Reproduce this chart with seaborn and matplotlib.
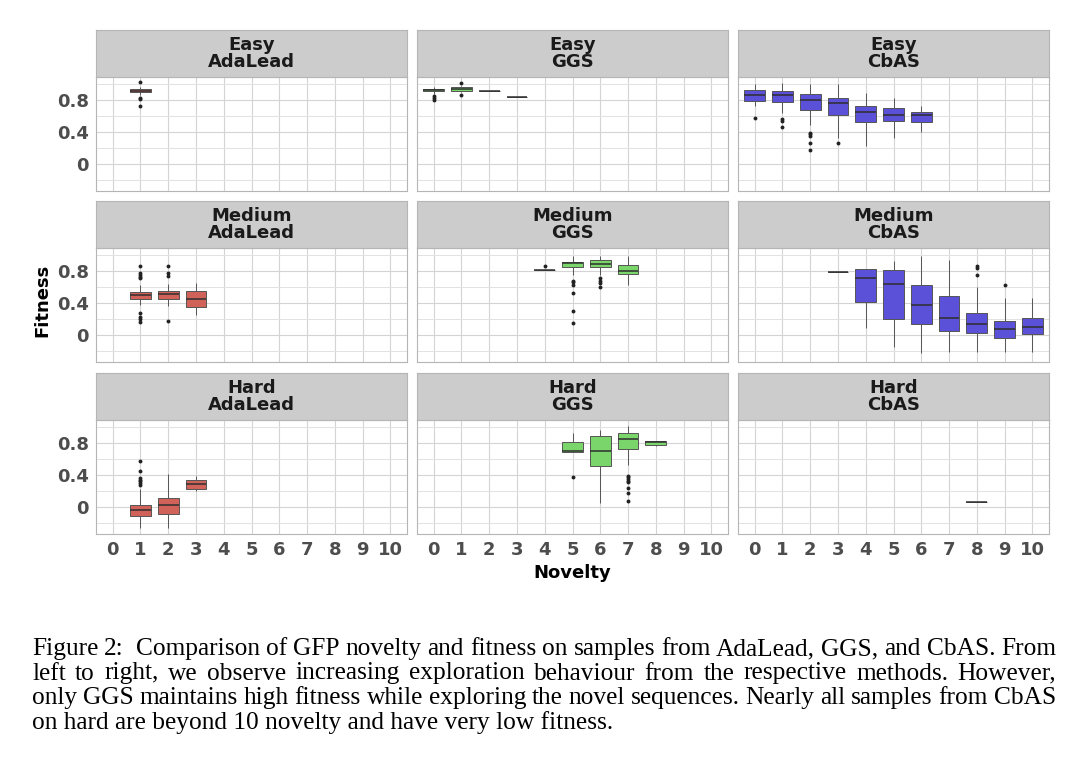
import matplotlib
matplotlib.use("Agg")
import matplotlib.pyplot as plt
import pandas as pd
import seaborn as sns

difficulties = ["Easy", "Medium", "Hard"]
methods = ["AdaLead", "GGS", "CbAS"]
method_colors = ["#D1625A", "#7AD66B", "#5B50D8"]
novelty_ticks = list(range(11))
fitness_ticks = [0, 0.4, 0.8]
fitness_tick_labels = ["0", "0.4", "0.8"]
fitness_minor = [-0.2, 0.2, 0.6, 1.0]

# box summaries: novelty, low whisker, q1, median, q3, high whisker
easy_adalead_boxes = [[1, 0.87, 0.90, 0.92, 0.94, 0.97]]
easy_adalead_outliers = [[1, 1.03], [1, 0.83], [1, 0.81], [1, 0.73]]

easy_ggs_boxes = [[0, 0.88, 0.91, 0.93, 0.945, 0.97],
                  [1, 0.90, 0.92, 0.94, 0.96, 0.98],
                  [2, 0.92, 0.92, 0.92, 0.92, 0.92],
                  [3, 0.845, 0.845, 0.845, 0.845, 0.845]]
easy_ggs_outliers = [[0, 0.85], [0, 0.83], [0, 0.80], [1, 1.02], [1, 0.86]]

easy_cbas_boxes = [[0, 0.72, 0.79, 0.86, 0.93, 1.0],
                   [1, 0.64, 0.775, 0.87, 0.92, 1.02],
                   [2, 0.49, 0.68, 0.80, 0.875, 1.0],
                   [3, 0.32, 0.61, 0.77, 0.83, 1.0],
                   [4, 0.23, 0.525, 0.645, 0.73, 0.89],
                   [5, 0.33, 0.54, 0.61, 0.70, 0.83],
                   [6, 0.40, 0.525, 0.61, 0.65, 0.72]]
easy_cbas_outliers = [[0, 0.575], [1, 0.56], [1, 0.54], [1, 0.46],
                      [2, 0.39], [2, 0.375], [2, 0.35], [2, 0.26], [2, 0.18], [3, 0.26]]

medium_adalead_boxes = [[1, 0.37, 0.45, 0.50, 0.54, 0.62],
                        [2, 0.36, 0.455, 0.51, 0.545, 0.64],
                        [3, 0.25, 0.345, 0.455, 0.545, 0.65]]
medium_adalead_outliers = [[1, 0.87], [1, 0.78], [1, 0.755], [1, 0.73], [1, 0.71],
                           [1, 0.27], [1, 0.23], [1, 0.20], [1, 0.16],
                           [2, 0.87], [2, 0.78], [2, 0.74], [2, 0.17]]

medium_ggs_boxes = [[4, 0.82, 0.82, 0.82, 0.82, 0.82],
                    [5, 0.755, 0.85, 0.90, 0.92, 0.985],
                    [6, 0.75, 0.85, 0.895, 0.94, 0.99],
                    [7, 0.63, 0.77, 0.805, 0.88, 0.99]]
medium_ggs_outliers = [[4, 0.87], [5, 0.68], [5, 0.665], [5, 0.62], [5, 0.52], [5, 0.30], [5, 0.155],
                       [6, 0.71], [6, 0.68], [6, 0.655], [6, 0.595]]

medium_cbas_boxes = [[3, 0.795, 0.795, 0.795, 0.795, 0.795],
                     [4, 0.09, 0.415, 0.71, 0.83, 0.83],
                     [5, -0.15, 0.205, 0.64, 0.81, 0.93],
                     [6, -0.23, 0.14, 0.37, 0.625, 0.99],
                     [7, -0.21, 0.055, 0.21, 0.49, 0.94],
                     [8, -0.21, 0.02, 0.14, 0.27, 0.60],
                     [9, -0.21, -0.045, 0.08, 0.18, 0.46],
                     [10, -0.21, 0.01, 0.10, 0.215, 0.46]]
medium_cbas_outliers = [[8, 0.87], [8, 0.84], [8, 0.755], [9, 0.63]]

hard_adalead_boxes = [[1, -0.26, -0.12, -0.045, 0.03, 0.22],
                      [2, -0.26, -0.085, 0.02, 0.115, 0.41],
                      [3, 0.20, 0.23, 0.29, 0.335, 0.385]]
hard_adalead_outliers = [[1, 0.57], [1, 0.455], [1, 0.36], [1, 0.34], [1, 0.32], [1, 0.30], [1, 0.28]]

hard_ggs_boxes = [[5, 0.69, 0.69, 0.70, 0.81, 0.93],
                  [6, 0.05, 0.515, 0.70, 0.89, 0.97],
                  [7, 0.53, 0.73, 0.85, 0.93, 1.02],
                  [8, 0.77, 0.78, 0.81, 0.83, 0.83]]
hard_ggs_outliers = [[5, 0.38], [7, 0.39], [7, 0.37], [7, 0.35], [7, 0.33], [7, 0.31],
                     [7, 0.24], [7, 0.18], [7, 0.07]]

hard_cbas_boxes = [[8, 0.065, 0.065, 0.065, 0.065, 0.065]]
hard_cbas_outliers = []

panel_boxes = [[easy_adalead_boxes, easy_ggs_boxes, easy_cbas_boxes],
               [medium_adalead_boxes, medium_ggs_boxes, medium_cbas_boxes],
               [hard_adalead_boxes, hard_ggs_boxes, hard_cbas_boxes]]
panel_outliers = [[easy_adalead_outliers, easy_ggs_outliers, easy_cbas_outliers],
                  [medium_adalead_outliers, medium_ggs_outliers, medium_cbas_outliers],
                  [hard_adalead_outliers, hard_ggs_outliers, hard_cbas_outliers]]

caption_lines = [
    "Figure 2:  Comparison of GFP novelty and fitness on samples from AdaLead, GGS, and CbAS. From",
    "left to right, we observe increasing exploration behaviour from the respective methods. However,",
    "only GGS maintains high fitness while exploring the novel sequences. Nearly all samples from CbAS",
    "on hard are beyond 10 novelty and have very low fitness.",
]

sns.set_style("white")
plt.rcParams["font.family"] = ["DejaVu Sans"]

W, H = 1080, 765
fig = plt.figure(figsize=(W / 100, H / 100), dpi=100)

col_left = [96, 417, 738]
panel_w = 311
row_top = [77, 248, 420]
panel_h = 114
strip_h = 47


def box_frame(rows):
    recs = []
    for r in rows:
        for v in r[1:]:
            recs.append({"novelty": r[0], "fitness": v})
    return pd.DataFrame(recs)


for i, diff in enumerate(difficulties):
    for j, meth in enumerate(methods):
        x0 = col_left[j] / W
        y0 = 1 - (row_top[i] + panel_h) / H
        ax = fig.add_axes([x0, y0, panel_w / W, panel_h / H])

        df = box_frame(panel_boxes[i][j])
        sns.boxplot(data=df, x="novelty", y="fitness", order=novelty_ticks,
                    color=method_colors[j], saturation=1, width=0.75,
                    whis=(0, 100), showfliers=False, showcaps=False,
                    linecolor="#555555", linewidth=0.7,
                    medianprops={"linewidth": 1.1, "color": "#2E2E2E"},
                    ax=ax, zorder=3)
        out = pd.DataFrame(panel_outliers[i][j], columns=["novelty", "fitness"])
        if len(out):
            sns.stripplot(data=out, x="novelty", y="fitness", order=novelty_ticks,
                          jitter=False, color="#222222", size=2.8, ax=ax, zorder=4)

        ax.set_xlim(-0.6, 10.6)
        ax.set_ylim(-0.34, 1.09)
        ax.set_yticks(fitness_ticks)
        ax.set_yticks(fitness_minor, minor=True)
        ax.set_xticks(novelty_ticks)
        ax.set_axisbelow(True)
        ax.grid(which="major", color="#D4D4D4", linewidth=0.8)
        ax.grid(which="minor", axis="y", color="#E2E2E2", linewidth=0.7)
        ax.tick_params(which="minor", length=0)
        ax.tick_params(which="major", length=3, width=0.7, color="#555555", pad=2)
        for s in ax.spines.values():
            s.set_color("#B5B5B5")
            s.set_linewidth(0.8)
        ax.set_xlabel("")
        ax.set_ylabel("")

        if j == 0:
            ax.set_yticklabels(fitness_tick_labels, fontsize=13, fontweight="bold", color="#4D4D4D")
        else:
            ax.tick_params(axis="y", which="major", length=0, labelleft=False)
        if i == 2:
            ax.set_xticklabels([str(t) for t in novelty_ticks], fontsize=13,
                               fontweight="bold", color="#4D4D4D")
        else:
            ax.tick_params(axis="x", length=0, labelbottom=False)

        # facet strip
        sax = fig.add_axes([x0, 1 - row_top[i] / H, panel_w / W, strip_h / H])
        sax.set_facecolor("#CCCCCC")
        sax.set_xticks([])
        sax.set_yticks([])
        for s in sax.spines.values():
            s.set_color("#B5B5B5")
            s.set_linewidth(0.8)
        sax.text(0.5, 0.5, f"{diff}\n{meth}", ha="center", va="center",
                 fontsize=13, fontweight="bold", color="#1A1A1A", linespacing=0.9,
                 transform=sax.transAxes)

fig.text(572 / W, 1 - 573 / H, "Novelty", ha="center", va="center",
         fontsize=13, fontweight="bold", color="black")
fig.text(42 / W, 1 - 300 / H, "Fitness", ha="center", va="center", rotation=90,
         fontsize=13, fontweight="bold", color="black")

# caption, justified by hand
cap_font = dict(fontsize=18.3, family="Liberation Serif", color="black")
cap_left, cap_right = 32, 1056
fig.canvas.draw()
renderer = fig.canvas.get_renderer()
for k, line in enumerate(caption_lines):
    yb = 1 - (655 + k * 24.5) / H
    words = line.split(" ")
    if k == len(caption_lines) - 1:
        fig.text(cap_left / W, yb, line, va="baseline", ha="left", **cap_font)
        continue
    widths = []
    for w in words:
        t = fig.text(0, 0, w, **cap_font)
        widths.append(t.get_window_extent(renderer).width if w else 0)
        t.remove()
    gap = (cap_right - cap_left - sum(widths)) / (len(words) - 1)
    x = cap_left
    for w, wd in zip(words, widths):
        if w:
            fig.text(x / W, yb, w, va="baseline", ha="left", **cap_font)
        x += wd + gap

fig.savefig("out.png", dpi=100)
